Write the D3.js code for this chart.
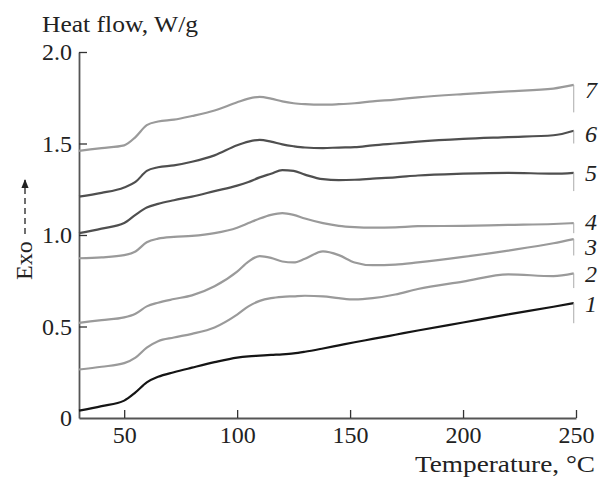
<!DOCTYPE html>
<html>
<head>
<meta charset="utf-8">
<script src="https://cdn.jsdelivr.net/npm/d3@7"></script>
<style>
  body { margin: 0; background: #fff; }
  text { font-family: "Liberation Serif", "Times New Roman", serif; }
</style>
</head>
<body>
<svg id="chart" width="599" height="477"></svg>
<script>
// temperature grid (°C)
var temps = [30, 40, 50, 55, 60, 65, 72, 80, 90, 100, 105, 110, 115, 120, 125, 130, 138, 145, 152, 160, 170, 180, 200, 220, 240, 249]
// heat flow (W/g) for curves 1..7
var curve1 = [0.04, 0.065, 0.095, 0.14, 0.195, 0.225, 0.25, 0.275, 0.305, 0.33, 0.337, 0.341, 0.345, 0.348, 0.353, 0.362, 0.38, 0.397, 0.414, 0.432, 0.455, 0.478, 0.522, 0.566, 0.608, 0.628]
var curve2 = [0.265, 0.28, 0.30, 0.33, 0.385, 0.42, 0.44, 0.46, 0.495, 0.565, 0.61, 0.64, 0.655, 0.662, 0.665, 0.668, 0.665, 0.655, 0.648, 0.655, 0.675, 0.705, 0.745, 0.785, 0.775, 0.79]
var curve3 = [0.52, 0.535, 0.55, 0.57, 0.61, 0.63, 0.65, 0.67, 0.72, 0.80, 0.855, 0.885, 0.875, 0.855, 0.85, 0.87, 0.91, 0.89, 0.85, 0.835, 0.838, 0.85, 0.88, 0.915, 0.955, 0.978]
var curve4 = [0.873, 0.878, 0.89, 0.91, 0.96, 0.98, 0.99, 0.995, 1.01, 1.04, 1.065, 1.09, 1.11, 1.12, 1.11, 1.09, 1.065, 1.05, 1.043, 1.04, 1.042, 1.048, 1.05, 1.055, 1.06, 1.065]
var curve5 = [1.01, 1.035, 1.065, 1.11, 1.15, 1.17, 1.19, 1.21, 1.24, 1.27, 1.29, 1.315, 1.335, 1.355, 1.35, 1.33, 1.305, 1.30, 1.302, 1.308, 1.315, 1.325, 1.335, 1.34, 1.335, 1.34]
var curve6 = [1.21, 1.23, 1.26, 1.29, 1.35, 1.37, 1.38, 1.40, 1.435, 1.49, 1.51, 1.52, 1.51, 1.495, 1.485, 1.478, 1.475, 1.478, 1.48, 1.49, 1.50, 1.51, 1.525, 1.535, 1.545, 1.57]
var curve7 = [1.46, 1.475, 1.49, 1.535, 1.60, 1.62, 1.63, 1.65, 1.68, 1.725, 1.745, 1.755, 1.745, 1.73, 1.72, 1.715, 1.712, 1.715, 1.72, 1.73, 1.74, 1.752, 1.77, 1.785, 1.80, 1.82]
// small vertical drop at the end of each curve (W/g)
var endDrop = [0.11, 0.08, 0.09, 0.055, 0.10, 0.07, 0.15]
var curveNames = ["1", "2", "3", "4", "5", "6", "7"]
var curveColors = ["#151515", "#9a9a9a", "#9a9a9a", "#9a9a9a", "#4f4f4f", "#4f4f4f", "#9a9a9a"]
var xTicks = [50, 100, 150, 200, 250]
var yTicks = [0, 0.5, 1.0, 1.5, 2.0]

var allCurves = [curve1, curve2, curve3, curve4, curve5, curve6, curve7]
var series = allCurves.map(function(vals, i){
    return {name: curveNames[i], color: curveColors[i], drop: endDrop[i],
        points: vals.map(function(v, j){ return [temps[j], v] })}
})

var margin = ({top: 52, right: 23, bottom: 59, left: 79})
var width = 599
var height = 477
var svg = d3.select('#chart')

var x = d3.scaleLinear()
    .domain([30, 250])
    .range([margin.left, width - margin.right])
var y = d3.scaleLinear()
    .domain([0, 2])
    .range([height - margin.bottom, margin.top])

var xAxis = g => g
    .attr("transform", `translate(0,${height - margin.bottom})`)
    .call(d3.axisBottom(x).tickValues(xTicks).tickSizeInner(-8).tickSizeOuter(0).tickPadding(8))
var yAxis = g => g
    .attr("transform", `translate(${margin.left},0)`)
    .call(d3.axisLeft(y).tickValues(yTicks).tickSizeInner(-8).tickSizeOuter(0).tickPadding(7)
        .tickFormat(d => d === 0 ? "0" : d.toFixed(1)))

function styleAxis(g){
    g.attr("font-family", null)
    g.select(".domain").attr("stroke", "#555").attr("stroke-width", 1.8)
    g.selectAll(".tick line").attr("stroke", "#333").attr("stroke-width", 1.3)
    g.selectAll(".tick text").attr("font-size", 24).attr("fill", "#222")
}
svg.append("g").call(xAxis).call(styleAxis)
svg.append("g").call(yAxis).call(styleAxis)
// the 0 tick on y sits on the x axis
svg.selectAll("g.tick").filter(d => d === 0).select("line").remove()

var line = d3.line()
    .x(d => x(d[0]))
    .y(d => y(d[1]))
    .curve(d3.curveMonotoneX)

var g = svg.append("g")
g.selectAll("path.curve")
    .data(series)
    .join("path")
    .attr("class", "curve")
    .attr("fill", "none")
    .attr("stroke", d => d.color)
    .attr("stroke-width", 2.2)
    .attr("stroke-linejoin", "round")
    .attr("d", d => line(d.points))

// end drop lines
var last = d => d.points[d.points.length - 1]
g.selectAll("line.drop")
    .data(series)
    .join("line")
    .attr("class", "drop")
    .attr("x1", d => x(last(d)[0]))
    .attr("x2", d => x(last(d)[0]))
    .attr("y1", d => y(last(d)[1]))
    .attr("y2", d => y(last(d)[1] - d.drop))
    .attr("stroke", "#aaa")
    .attr("stroke-width", 1)

// curve numbers (3 and 4 nudged apart like in the figure)
var nudge = {"3": 7, "4": -2, "7": 4, "6": 3}
g.selectAll("text.lab")
    .data(series)
    .join("text")
    .attr("class", "lab")
    .attr("x", width - 14)
    .attr("y", d => y(last(d)[1]) + (nudge[d.name] || 0))
    .attr("dy", "0.36em")
    .attr("font-size", 24)
    .attr("font-style", "italic")
    .attr("fill", "#222")
    .text(d => d.name)

// axis titles
svg.append("text")
    .attr("x", 42).attr("y", 32)
    .attr("font-size", 24).attr("fill", "#222")
    .attr("textLength", 156).attr("lengthAdjust", "spacingAndGlyphs")
    .text("Heat flow, W/g")
svg.append("text")
    .attr("x", 415).attr("y", 472)
    .attr("font-size", 24).attr("fill", "#222")
    .attr("textLength", 180).attr("lengthAdjust", "spacingAndGlyphs")
    .text("Temperature, °C")

// Exo arrow
svg.append("defs").append("marker")
    .attr("id", "arr").attr("viewBox", "0 0 10 10")
    .attr("refX", 9).attr("refY", 5)
    .attr("markerWidth", 7).attr("markerHeight", 7)
    .attr("orient", "auto")
    .append("path").attr("d", "M0,1 L10,5 L0,9 z").attr("fill", "#222")
svg.append("text")
    .attr("transform", "translate(32,280) rotate(-90)")
    .attr("font-size", 24).attr("fill", "#222")
    .text("Exo")
svg.append("line")
    .attr("x1", 25).attr("x2", 25)
    .attr("y1", 234).attr("y2", 180)
    .attr("stroke", "#222").attr("stroke-width", 1.3)
    .attr("stroke-dasharray", "6,4")
    .attr("marker-end", "url(#arr)")
</script>
</body>
</html>
